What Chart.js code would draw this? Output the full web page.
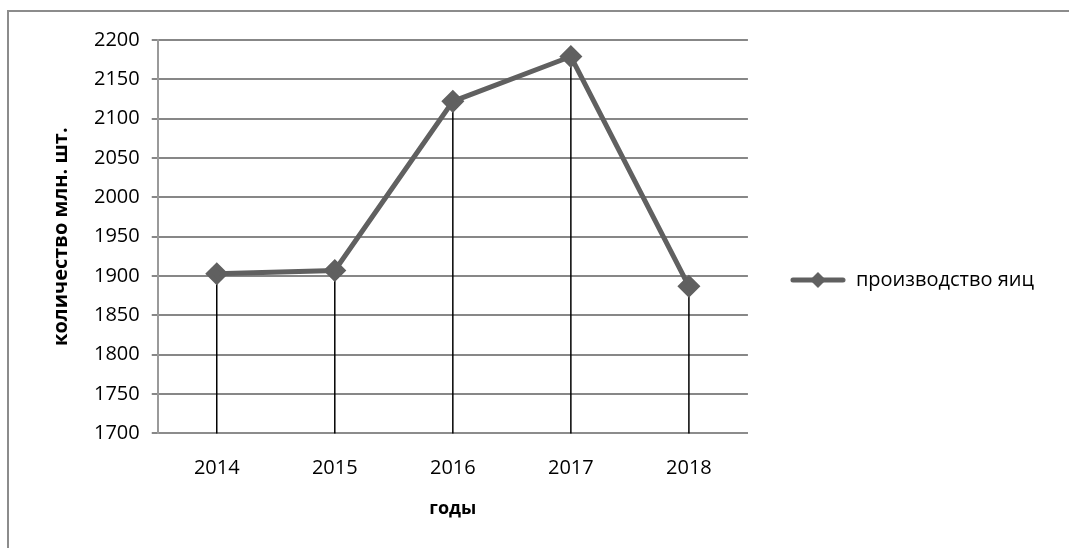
<!DOCTYPE html>
<html>
<head>
<meta charset="utf-8">
<script src="https://cdn.jsdelivr.net/npm/chart.js@4"></script>
<style>
  html, body { margin: 0; padding: 0; background: #fff; }
  #wrap { position: relative; width: 1069px; height: 548px; overflow: hidden; }
  #frame { position: absolute; left: 7px; top: 10px; right: -5px; bottom: -5px;
           border-left: 2px solid #8c8c8c; border-top: 2px solid #8c8c8c; }
  canvas { position: absolute; left: 0; top: 0; }
</style>
</head>
<body>
<div id="wrap">
  <div id="frame"></div>
  <canvas id="chart" width="1069" height="548"></canvas>
</div>
<script>
// данные
const years = ["2014", "2015", "2016", "2017", "2018"];
const eggs = [1903, 1907, 2122, 2179, 1887];
const seriesName = "производство яиц";
const yTitle = "количество млн. шт.";
const xTitle = "годы";

const lineColor = "#606060";
const fontFam = "'Open Sans', Lato, sans-serif";

// значок легенды: линия с ромбом
function legendIcon() {
  const c = document.createElement("canvas");
  c.width = 56; c.height = 18;
  const g = c.getContext("2d");
  g.strokeStyle = lineColor;
  g.lineWidth = 5;
  g.lineCap = "round";
  g.beginPath(); g.moveTo(3, 9); g.lineTo(53, 9); g.stroke();
  g.fillStyle = lineColor;
  g.beginPath(); g.moveTo(28, 1); g.lineTo(36, 9); g.lineTo(28, 17); g.lineTo(20, 9); g.closePath(); g.fill();
  return c;
}

// вертикальные линии от точек до оси
const dropLines = {
  id: "dropLines",
  beforeDatasetsDraw(chart) {
    const ctx = chart.ctx;
    const meta = chart.getDatasetMeta(0);
    const bottom = chart.chartArea.bottom;
    ctx.save();
    ctx.strokeStyle = "#000";
    ctx.lineWidth = 1.5;
    meta.data.forEach(pt => {
      ctx.beginPath();
      ctx.moveTo(pt.x, pt.y);
      ctx.lineTo(pt.x, bottom);
      ctx.stroke();
    });
    ctx.restore();
  }
};

function draw() {
  new Chart(document.getElementById("chart"), {
    type: "line",
    data: {
      labels: years,
      datasets: [{
        label: seriesName,
        data: eggs,
        borderColor: lineColor,
        backgroundColor: lineColor,
        borderWidth: 5,
        pointStyle: "rectRot",
        pointRadius: 8,
        pointHoverRadius: 8,
        tension: 0
      }]
    },
    options: {
      responsive: false,
      animation: false,
      layout: { padding: { left: 49, top: 40, right: 25, bottom: 28 } },
      plugins: {
        tooltip: { enabled: false },
        legend: {
          position: "right",
          maxWidth: 420,
          labels: {
            usePointStyle: true,
            pointStyle: legendIcon(),
            pointStyleWidth: 56,
            padding: 42,
            color: "#000",
            font: { family: fontFam, size: 20 }
          }
        }
      },
      scales: {
        x: {
          offset: true,
          grid: { display: false },
          border: { color: "#8c8c8c", width: 2 },
          ticks: { color: "#000", font: { family: fontFam, size: 20 }, padding: 15 },
          title: { display: true, text: xTitle, color: "#000", font: { family: fontFam, size: 18, weight: "bold" }, padding: { top: 3, bottom: 0 } }
        },
        y: {
          min: 1700,
          max: 2200,
          ticks: { stepSize: 50, color: "#000", font: { family: fontFam, size: 20 }, padding: 12,
                   callback: v => String(v) },
          grid: { color: "#878787", lineWidth: 2, tickLength: 6 },
          border: { color: "#9a9a9a", width: 2 },
          title: { display: true, text: yTitle, color: "#000", font: { family: fontFam, size: 20, weight: "bold" }, padding: { top: 0, bottom: 9 } }
        }
      }
    },
    plugins: [dropLines]
  });
}

Promise.all([
  document.fonts.load("20px 'Open Sans'"),
  document.fonts.load("bold 20px 'Open Sans'")
]).then(draw, draw);
</script>
</body>
</html>
